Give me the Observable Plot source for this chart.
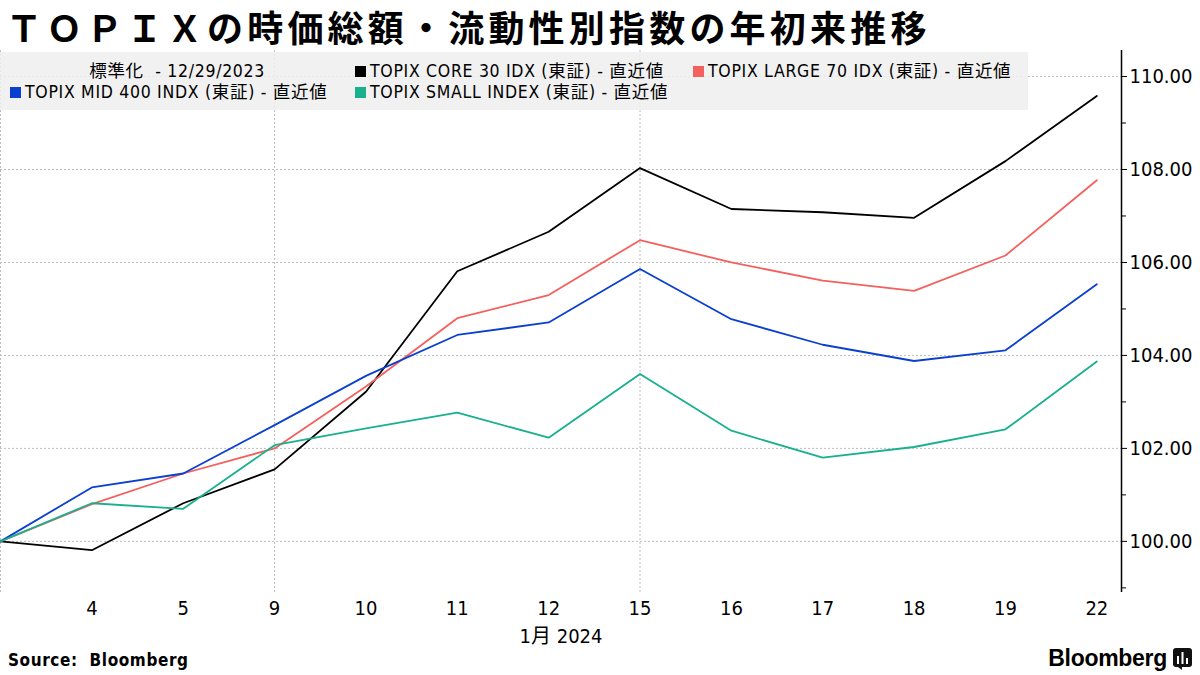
<!DOCTYPE html>
<html>
<head>
<meta charset="utf-8">
<script src="https://cdn.jsdelivr.net/npm/d3@7"></script>
<script src="https://cdn.jsdelivr.net/npm/@observablehq/plot@0.6"></script>
<style>
  html, body { margin: 0; padding: 0; background: #fff; }
  #wrap { position: relative; width: 1200px; height: 675px; overflow: hidden; background: #fff;
    font-family: "DejaVu Sans Condensed", "DejaVu Sans", "Noto Sans CJK JP", sans-serif; }
  #title { position: absolute; left: 6px; top: 0px; font-family: "Noto Sans CJK JP", sans-serif;
    font-weight: 700; font-size: 36px; letter-spacing: 4.2px; line-height: 52px; color: #000; white-space: nowrap; }
  #chart { position: absolute; left: 0; top: 40px; }
  #legend { position: absolute; left: 0; top: 52px; width: 1028px; height: 58px;
    background: rgba(238,238,238,0.85); font-size: 17.5px; letter-spacing: 0.7px; color: #000; }
  .li { position: absolute; white-space: pre; line-height: 20px; }
  .sw { display: inline-block; width: 11px; height: 11px; margin-right: 4px; vertical-align: 0px; }
  #source { position: absolute; left: 8px; top: 650px; font-weight: 700; font-size: 17px; letter-spacing: 0.6px; font-family: "DejaVu Sans Condensed", "DejaVu Sans", sans-serif; white-space: pre; }
  #logo { position: absolute; right: 8px; top: 645px; font-weight: 700; font-size: 23px; font-family: "Liberation Sans", "DejaVu Sans", sans-serif; letter-spacing: -0.3px; display: flex; align-items: center; gap: 6px; }
</style>
</head>
<body>
<div id="wrap">
  <div id="chart"></div>
  <div id="title">ＴＯＰＩＸの時価総額・流動性別指数の年初来推移</div>
  <div id="legend"></div>
  <div id="source">Source:  Bloomberg</div>
  <div id="logo">Bloomberg<svg width="19" height="22" viewBox="0 0 19 22"><rect x="0" y="0" width="19" height="19" rx="3" fill="#111"/><path d="M5 19 L9 22 L9 19 Z" fill="#111"/><rect x="4" y="8" width="2" height="8" fill="#fff"/><rect x="8.5" y="4" width="2" height="12" fill="#fff"/><rect x="13" y="10" width="2" height="6" fill="#fff"/></svg></div>
</div>
<script>
// ---- data ----
const dayLabels = ["12/29", "4", "5", "9", "10", "11", "12", "15", "16", "17", "18", "19", "22"];
const core30  = [100, 99.81, 100.82, 101.55, 103.22, 105.81, 106.66, 108.03, 107.15, 107.08, 106.96, 108.18, 109.58];
const large70 = [100, 100.80, 101.46, 102.00, 103.33, 104.80, 105.30, 106.48, 106.00, 105.61, 105.39, 106.15, 107.77];
const mid400  = [100, 101.16, 101.46, 102.50, 103.56, 104.44, 104.71, 105.86, 104.78, 104.23, 103.88, 104.11, 105.53];
const small   = [100, 100.82, 100.70, 102.07, 102.43, 102.77, 102.23, 103.60, 102.38, 101.80, 102.03, 102.41, 103.87];
const seriesNames = [
  "TOPIX CORE 30 IDX (東証) - 直近値",
  "TOPIX LARGE 70 IDX (東証) - 直近値",
  "TOPIX MID 400 INDX (東証) - 直近値",
  "TOPIX SMALL INDEX (東証) - 直近値"
];
const seriesColors = ["#000000", "#f4605e", "#0b3fcf", "#19b08e"];
const seriesValues = [core30, large70, mid400, small];
const yTicks = [100, 102, 104, 106, 108, 110];
const yMinorTicks = [99, 101, 103, 105, 107, 109];
const weekStarts = [0, 3, 7];
const normLabel = "標準化  - 12/29/2023";
const periodLabel = "1月 2024";

// ---- table ----
const rows = [];
seriesValues.forEach((vals, s) => vals.forEach((v, i) => rows.push({i, v, s: seriesNames[s]})));

const xMax = 12.27;
const font = '"DejaVu Sans Condensed", "DejaVu Sans", "Noto Sans CJK JP", sans-serif';

const chart = Plot.plot({
  width: 1200,
  height: 610,
  marginTop: 10,
  marginBottom: 58,
  marginLeft: 0,
  marginRight: 79,
  style: {fontFamily: font, fontSize: "20px", color: "#000", background: "transparent"},
  x: {domain: [0, xMax]},
  y: {domain: [98.9, 110.56]},
  color: {domain: seriesNames, range: seriesColors},
  marks: [
    Plot.ruleY(yTicks, {stroke: "#bdbdbd", strokeDasharray: "2,2", strokeWidth: 1}),
    Plot.ruleX(weekStarts, {stroke: "#bdbdbd", strokeDasharray: "2,2", strokeWidth: 1}),
    Plot.line(rows, {x: "i", y: "v", z: "s", stroke: "s", strokeWidth: 1.8}),
    Plot.ruleX([xMax], {stroke: "#000", strokeWidth: 1.5}),
    Plot.axisY({anchor: "right", ticks: yTicks, tickFormat: d => d.toFixed(2), tickSize: 5, tickPadding: 3, fontSize: 20, label: null}),
    Plot.axisY({anchor: "right", ticks: yMinorTicks, tickFormat: () => "", tickSize: 4, label: null}),
    Plot.axisX({ticks: d3.range(1, dayLabels.length), tickFormat: i => dayLabels[i], tickSize: 0, tickPadding: 8, fontSize: 20,
      label: periodLabel, labelAnchor: "center", labelOffset: 50, labelArrow: "none"})
  ]
});
document.getElementById("chart").appendChild(chart);

// ---- legend ----
const legend = document.getElementById("legend");
const pos = [
  {left: 355, top: 9}, {left: 693, top: 9}, {left: 10, top: 30}, {left: 355, top: 30}
];
const norm = document.createElement("div");
norm.className = "li";
norm.style.left = "0px"; norm.style.width = "265px"; norm.style.textAlign = "right"; norm.style.top = "9px";
norm.textContent = normLabel;
legend.appendChild(norm);
seriesNames.forEach((name, k) => {
  const d = document.createElement("div");
  d.className = "li";
  d.style.left = pos[k].left + "px";
  d.style.top = pos[k].top + "px";
  const sw = document.createElement("span");
  sw.className = "sw";
  sw.style.background = seriesColors[k];
  d.appendChild(sw);
  d.appendChild(document.createTextNode(name));
  legend.appendChild(d);
});
</script>
</body>
</html>
